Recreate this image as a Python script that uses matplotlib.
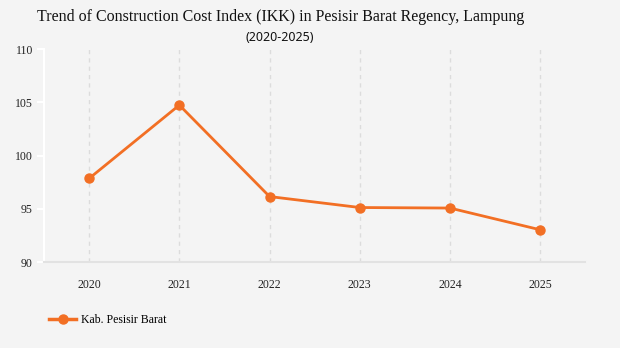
import matplotlib
matplotlib.use("Agg")
import matplotlib.pyplot as plt
from matplotlib.lines import Line2D

# IKK values per year
years = ["2020", "2021", "2022", "2023", "2024", "2025"]
ikk = [97.85, 104.74, 96.15, 95.12, 95.07, 93.03]
series_label = "Kab. Pesisir Barat"

orange = "#f26f24"
bg = "#f4f4f4"

fig = plt.figure(figsize=(6.2, 3.48), dpi=100, facecolor=bg)
ax = fig.add_axes([0.071, 0.247, 0.873, 0.612], facecolor=bg)

x = list(range(len(years)))
ax.plot(x, ikk, color=orange, lw=2.0, marker="o", ms=6.5, zorder=3)

ax.set_xlim(-0.5, 5.5)
ax.set_ylim(90, 110)
ax.set_xticks(x)
ax.set_xticklabels(years)
ax.set_yticks([90, 95, 100, 105, 110])

# dotted vertical guides at each year
for xi in x:
    ax.axvline(xi, color="#dcdcdc", lw=1.0, ls=(0, (3, 3)), zorder=1)

for s in ["top", "right"]:
    ax.spines[s].set_visible(False)
ax.spines["left"].set_color("white")
ax.spines["left"].set_linewidth(1.5)
ax.spines["bottom"].set_color("#e2e2e2")
ax.spines["bottom"].set_linewidth(1.5)

ax.tick_params(axis="y", colors="white", length=5, width=1.5, pad=3,
               labelcolor="#222222", labelsize=8.5)
ax.tick_params(axis="x", length=0, pad=12, labelcolor="#222222", labelsize=8.5)
for lbl in ax.get_xticklabels() + ax.get_yticklabels():
    lbl.set_family("Liberation Serif")

fig.text(0.452, 0.95, "Trend of Construction Cost Index (IKK) in Pesisir Barat Regency, Lampung",
         ha="center", va="center", fontsize=11.5, family="Liberation Serif",
         color="#111111")
fig.text(0.452, 0.893, "(2020-2025)", ha="center", va="center",
         fontsize=9, family="Noto Sans", color="#111111")

handle = Line2D([], [], color=orange, lw=2.5, marker="o", ms=6.5)
leg = fig.legend([handle], [series_label], loc="center left",
                 bbox_to_anchor=(0.062, 0.08), frameon=False,
                 handlelength=2.3, handletextpad=0.4,
                 prop={"family": "Liberation Serif", "size": 8.5})

fig.savefig("out.png", dpi=100, facecolor=bg)
